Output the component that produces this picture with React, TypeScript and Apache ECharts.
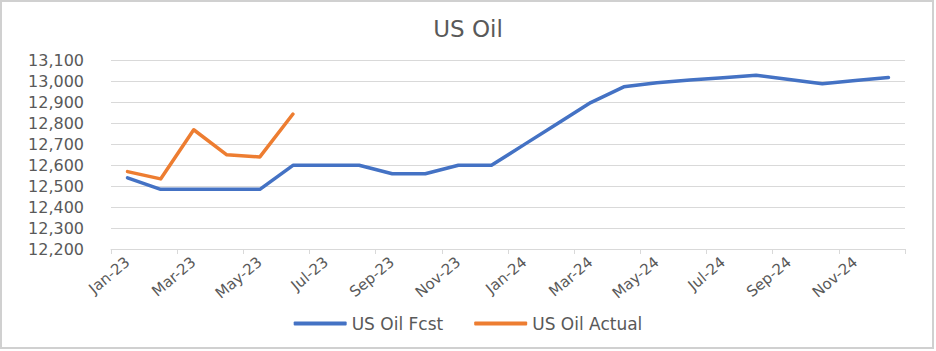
import React, { useEffect, useRef } from "react";
import * as echarts from "echarts";

const months = [
  "Jan-23", "Feb-23", "Mar-23", "Apr-23", "May-23", "Jun-23",
  "Jul-23", "Aug-23", "Sep-23", "Oct-23", "Nov-23", "Dec-23",
  "Jan-24", "Feb-24", "Mar-24", "Apr-24", "May-24", "Jun-24",
  "Jul-24", "Aug-24", "Sep-24", "Oct-24", "Nov-24", "Dec-24",
];

const usOilFcst = [
  12540, 12485, 12485, 12485, 12485, 12600,
  12600, 12600, 12560, 12560, 12600, 12600,
  12700, 12800, 12900, 12975, 12995, 13008,
  13018, 13030, 13010, 12990, 13005, 13020,
];

const usOilActual = [12570, 12535, 12770, 12650, 12640, 12845];

const FONT = "DejaVu Sans";
const TEXT_COLOR = "#595959";
const GRID_COLOR = "#d9d9d9";

export default function App() {
  const ref = useRef<HTMLDivElement>(null);

  useEffect(() => {
    if (!ref.current) return;
    const chart = echarts.init(ref.current, undefined, { renderer: "svg" });
    chart.setOption({
      animation: false,
      backgroundColor: "#ffffff",
      title: {
        text: "US Oil",
        left: "center",
        top: 12,
        textStyle: {
          fontFamily: FONT,
          fontSize: 23,
          fontWeight: "normal",
          color: TEXT_COLOR,
        },
      },
      graphic: [
        {
          type: "rect",
          shape: { x: 1, y: 1, width: 932, height: 347 },
          style: { fill: "none", stroke: "#d0d0d0", lineWidth: 2 },
          silent: true,
        },
      ],
      grid: {
        left: 111,
        right: 31,
        top: 60.7,
        bottom: 102,
        containLabel: false,
      },
      legend: {
        bottom: 14,
        left: "center",
        itemWidth: 53,
        itemHeight: 4,
        itemGap: 31,
        icon: "roundRect",
        textStyle: { fontFamily: FONT, fontSize: 17, color: TEXT_COLOR },
        data: ["US Oil Fcst", "US Oil Actual"],
      },
      xAxis: {
        type: "category",
        data: months,
        boundaryGap: true,
        axisLine: { lineStyle: { color: GRID_COLOR, width: 1 } },
        axisTick: {
          show: true,
          interval: 1,
          alignWithLabel: false,
          length: 5,
          lineStyle: { color: GRID_COLOR },
        },
        axisLabel: {
          interval: 1,
          rotate: 40,
          margin: 11,
          fontFamily: FONT,
          fontSize: 15,
          color: TEXT_COLOR,
        },
        splitLine: { show: false },
      },
      yAxis: {
        type: "value",
        min: 12200,
        max: 13100,
        interval: 100,
        axisLine: { show: false },
        axisTick: { show: false },
        axisLabel: {
          margin: 27,
          fontFamily: FONT,
          fontSize: 16,
          color: TEXT_COLOR,
          formatter: (v: number) => v.toLocaleString("en-US"),
        },
        splitLine: { lineStyle: { color: GRID_COLOR, width: 1 } },
      },
      series: [
        {
          name: "US Oil Fcst",
          type: "line",
          data: usOilFcst,
          symbol: "none",
          color: "#4472C4",
          lineStyle: { width: 3.5, color: "#4472C4", cap: "round", join: "round" },
        },
        {
          name: "US Oil Actual",
          type: "line",
          data: usOilActual,
          symbol: "none",
          color: "#ED7D31",
          lineStyle: { width: 3.5, color: "#ED7D31", cap: "round", join: "round" },
        },
      ],
    });
    return () => chart.dispose();
  }, []);

  return (
    <div
      ref={ref}
      style={{ position: "fixed", left: 0, top: 0, width: 936, height: 351 }}
    />
  );
}
